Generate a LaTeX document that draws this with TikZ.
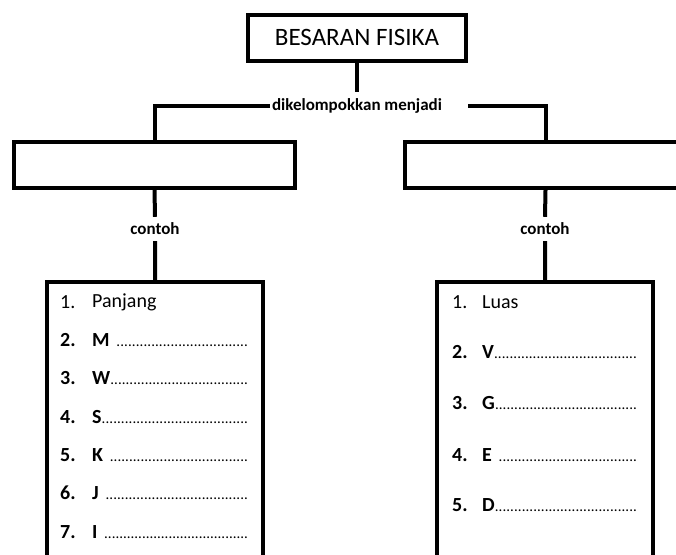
\documentclass[tikz,border=0pt]{standalone}
\usepackage{fontspec}
\setmainfont{Carlito}
\newcommand{\titik}{\xleaders\hbox{\normalfont\fontsize{15}{15}\selectfont.}\hfill\null}
\begin{document}
\begin{tikzpicture}[x=1pt,y=-1pt,line join=miter,
	kotak/.style={draw,line width=4pt,minimum width=281pt,minimum height=46pt,inner sep=0pt},
	garis/.style={line width=4pt},
	ket/.style={font=\fontsize{17}{19}\selectfont\bfseries,inner xsep=2pt,inner ysep=6pt},
	isian/.style={anchor=west,inner sep=0pt,font=\fontsize{20}{24}\selectfont}]
	\useasboundingbox (0,0) rectangle (676,554);
	\clip (0,0) rectangle (676,554);
	% kotak utama
	\node[kotak,minimum width=218pt] (besaran) at (357,37.5) {\fontsize{25}{29}\selectfont BESARAN FISIKA};
	\node[ket] (kelompok) at (357,106) {dikelompokkan menjadi};
	\node[kotak] (kiri) at (154.5,165) {};
	\node[kotak] (kanan) at (545.5,165) {};
	\node[ket] (contoh1) at (155,229) {contoh};
	\node[ket] (contoh2) at (545,229) {contoh};
	\node[kotak,minimum width=216pt,minimum height=320pt,anchor=north] (daftar1) at (155,280) {};
	\node[kotak,minimum width=216pt,minimum height=320pt,anchor=north] (daftar2) at (545,280) {};
	% garis penghubung
	\draw[garis] (besaran.south) -- (kelompok.north);
	\draw[garis] (kelompok.west) -| (kiri.north);
	\draw[garis] ([xshift=24pt]kelompok.east) -| (kanan.north);
	\draw[garis] (kiri.south) -- (contoh1.north) (contoh1.south) -- (daftar1.north);
	\draw[garis] (kanan.south) -- (contoh2.north) (contoh2.south) -- (daftar2.north);
	% isian kiri
	\node[isian] (a1n) at (60,302) {1.};
	\node[isian] (a1) at (92,302) {Panjang};
	\foreach \y/\n/\h in {340/2/{M\ },378/3/W,417/4/S,455/5/{K\ },493/6/{J\ },532/7/{I\ }} {
		\node[isian,font=\fontsize{20}{24}\selectfont\bfseries] (a\n n) at (60,\y) {\n.};
		\node[isian,text width=156pt,font=\fontsize{20}{24}\selectfont\bfseries] (a\n) at (92,\y) {\h\titik};
	}
	% isian kanan
	\node[isian] (b1n) at (452,302) {1.};
	\node[isian] (b1) at (482,302) {Luas};
	\foreach \y/\n/\h in {352/2/V,403/3/G,455/4/{E\ },505/5/D} {
		\node[isian,font=\fontsize{20}{24}\selectfont\bfseries] (b\n n) at (452,\y) {\n.};
		\node[isian,text width=155pt,font=\fontsize{20}{24}\selectfont\bfseries] (b\n) at (482,\y) {\h\titik};
	}
\end{tikzpicture}
\end{document}
